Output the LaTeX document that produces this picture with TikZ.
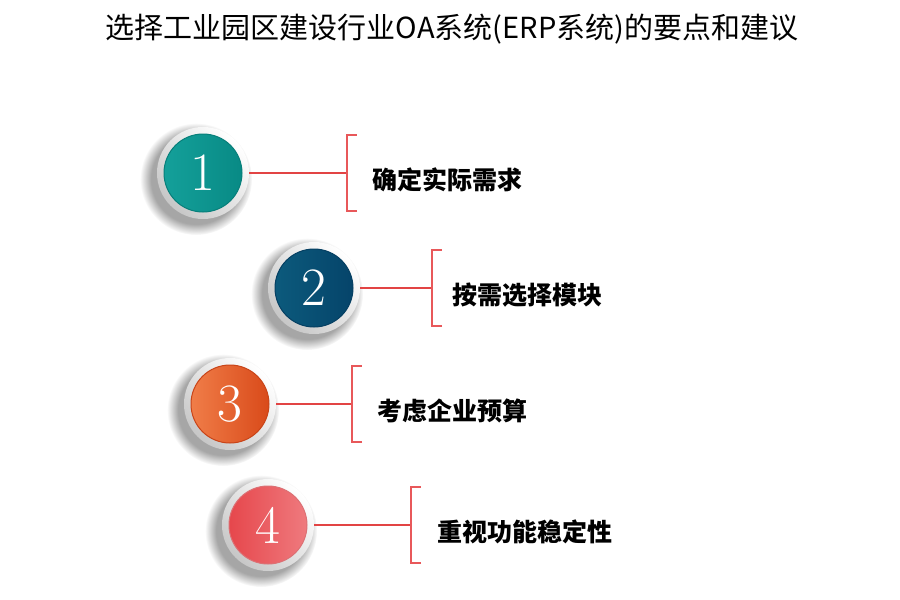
\documentclass[tikz,border=0pt]{standalone}
\usepackage{fontspec}
\newfontfamily\cjk{Noto Sans CJK SC}
\usetikzlibrary{fadings,shadings}
\definecolor{linered}{HTML}{E24444}
\definecolor{brred}{HTML}{E8585A}
\definecolor{tealA}{HTML}{14A09A}\definecolor{tealB}{HTML}{088A85}
\definecolor{blueA}{HTML}{0C5A7C}\definecolor{blueB}{HTML}{05446A}
\definecolor{orA}{HTML}{F07D48}\definecolor{orB}{HTML}{D94A1A}
\definecolor{pkA}{HTML}{E6474C}\definecolor{pkB}{HTML}{EF7A7E}
\tikzset{
  ring/.style={circle, minimum size=92pt, inner sep=0pt, shade, shading=axis,
     top color=white, bottom color=black!22, shading angle=-45},
  disc/.style={circle, minimum size=78pt, inner sep=0pt, text=white,
     font=\fontsize{54}{54}\selectfont},
  conn/.style={draw=linered, line width=1.8pt},
  brk/.style={draw=brred, line width=1.6pt},
  label/.style={anchor=west, inner sep=0pt, font=\cjk\bfseries\fontsize{25}{25}\selectfont, text=black},
}
\newcommand{\stepitem}[9]{%
  % #1 id, #2 cx, #3 cy, #4 colA, #5 colB, #6 number, #7 bracket x, #8 text x, #9 text
  \fill[black, opacity=0.35, path fading=circle with fuzzy edge 20 percent]
     (#2-7,#3+6) circle[radius=56pt];
  \node[ring] (r#1) at (#2,#3) {};
  \node[disc, shade, left color=#4, right color=#5,
        draw=#5!92!black, line width=1pt] (c#1) at (#2,#3) {#6};
  \coordinate (b#1) at (#7,#3);
  \draw[conn] (r#1.east) -- (b#1);
  \draw[brk] ([shift={(10pt,-38pt)}]b#1) -- ([shift={(0,-38pt)}]b#1)
      -- ([shift={(0,38pt)}]b#1) -- ([shift={(10pt,38pt)}]b#1);
  \node[label] (t#1) at (#8,#3+7) {#9};
}
\begin{document}
\begin{tikzpicture}[x=1pt,y=-1pt]
\useasboundingbox (0,0) rectangle (900,600);
\node[font=\cjk\fontsize{29}{29}\selectfont] (title) at (452,29)
  {选择工业园区建设行业OA系统(ERP系统)的要点和建议};
\stepitem{1}{203}{173}{tealA}{tealB}{1}{347}{372}{确定实际需求}
\stepitem{2}{314}{288}{blueA}{blueB}{2}{432}{452}{按需选择模块}
\stepitem{3}{230}{404}{orA}{orB}{3}{352}{377}{考虑企业预算}
\stepitem{4}{268}{525}{pkA}{pkB}{4}{411}{437}{重视功能稳定性}
\end{tikzpicture}
\end{document}
